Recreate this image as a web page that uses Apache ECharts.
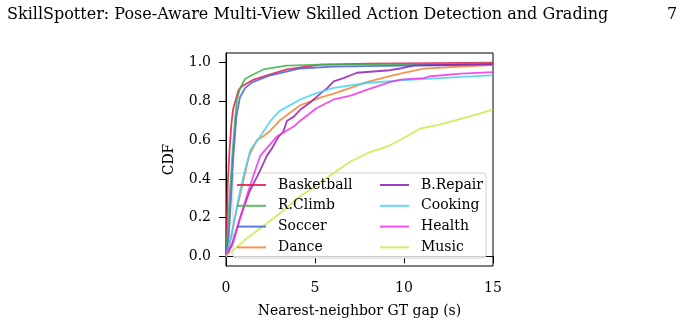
<!DOCTYPE html>
<html>
<head>
<meta charset="utf-8">
<script src="https://cdn.jsdelivr.net/npm/echarts@6/dist/echarts.min.js"></script>
<style>
  html, body { margin: 0; padding: 0; background: #fff; }
  #main { width: 685px; height: 325px; }
</style>
</head>
<body>
<div id="main"></div>
<script>
// CDF curves, [gap seconds, CDF]
const basketball = [[0,0],[0.05,0.2],[0.1,0.38],[0.2,0.55],[0.3,0.68],[0.4,0.76],[0.52,0.8],[0.71,0.86],[0.9,0.878],[1.55,0.913],[2.49,0.94],[3.43,0.965],[5.3,0.99],[8,0.995],[15,1.0]];
const rclimb = [[0,0],[0.1,0.15],[0.2,0.3],[0.34,0.5],[0.5,0.7],[0.62,0.81],[0.8,0.87],[1.08,0.917],[1.55,0.94],[2.1,0.965],[3.4,0.985],[5.3,0.99],[10,0.993],[15,0.995]];
const soccer = [[0,0],[0.15,0.1],[0.28,0.3],[0.4,0.5],[0.58,0.72],[0.78,0.82],[1.08,0.87],[1.5,0.9],[2.5,0.935],[4.17,0.97],[6,0.98],[10,0.985],[15,0.988]];
const dance = [[0,0],[0.13,0.03],[0.5,0.2],[1.0,0.4],[1.3,0.52],[1.74,0.6],[2.1,0.62],[2.5,0.65],[3.0,0.7],[3.43,0.73],[4.17,0.78],[5.3,0.82],[6.05,0.84],[7.0,0.87],[7.9,0.9],[9.2,0.93],[9.8,0.944],[11.1,0.969],[14.85,0.988],[15,0.988]];
const brepair = [[0,0],[0.3,0.05],[0.8,0.2],[1.3,0.33],[1.9,0.44],[2.3,0.52],[2.6,0.56],[2.96,0.62],[3.2,0.64],[3.43,0.7],[3.8,0.72],[4.17,0.757],[4.36,0.77],[4.8,0.8],[5.3,0.84],[5.7,0.87],[6.05,0.904],[6.6,0.92],[7.36,0.948],[9.2,0.961],[9.8,0.97],[10.6,0.986],[15,0.993]];
const cooking = [[0,0],[0.3,0.1],[0.7,0.3],[1.0,0.42],[1.37,0.55],[1.93,0.62],[2.5,0.7],[3.0,0.75],[4.17,0.81],[5,0.84],[6.05,0.87],[7.9,0.895],[9.8,0.909],[12,0.92],[14.85,0.934],[15,0.934]];
const health = [[0,0],[0.1,0.03],[0.4,0.07],[0.8,0.2],[1.2,0.32],[1.55,0.42],[1.93,0.52],[2.4,0.57],[2.87,0.62],[3.8,0.67],[4.17,0.7],[5.1,0.766],[6.05,0.81],[7.0,0.83],[7.9,0.86],[9.2,0.9],[9.8,0.913],[11.1,0.92],[11.5,0.93],[13.2,0.944],[15,0.951]];
const music = [[0,0],[0.5,0.04],[1,0.08],[2,0.15],[3,0.22],[4.17,0.31],[5,0.36],[6.05,0.43],[7,0.49],[8,0.535],[9.04,0.566],[10.17,0.62],[10.9,0.66],[12,0.68],[12.98,0.705],[14,0.73],[15,0.757]];

const seriesNames = ['Basketball', 'R.Climb', 'Soccer', 'Dance', 'B.Repair', 'Cooking', 'Health', 'Music'];
const seriesData = [basketball, rclimb, soccer, dance, brepair, cooking, health, music];
const colors = ['#e6194b', '#3cb44b', '#4363d8', '#f58231', '#911eb4', '#42d4f4', '#f032e6', '#bfef45'];

const yTicks = [0, 0.2, 0.4, 0.6, 0.8, 1.0];
const xTicks = [0, 5, 10, 15];

const serif = 'DejaVu Serif';

const chart = echarts.init(document.getElementById('main'));

const legendText = {
  fontFamily: serif,
  fontSize: 14,
  color: '#000',
  lineHeight: 16,
  padding: [0, 0, 0, 7]
};

const option = {
  animation: false,
  backgroundColor: '#fff',
  color: colors,
  title: [
    {
      text: 'SkillSpotter: Pose-Aware Multi-View Skilled Action Detection and Grading',
      left: 2, top: 2,
      textStyle: { fontFamily: serif, fontSize: 16, fontWeight: 'normal', color: '#000' }
    },
    {
      text: '7',
      left: 662, top: 2,
      textStyle: { fontFamily: serif, fontSize: 16, fontWeight: 'normal', color: '#000' }
    }
  ],
  grid: {
    left: 226, right: 192, top: 53, bottom: 59,
    show: true, borderColor: '#000', borderWidth: 1
  },
  xAxis: {
    type: 'value',
    min: 0, max: 15, interval: 5,
    name: 'Nearest-neighbor GT gap (s)',
    nameLocation: 'middle', nameGap: 38,
    nameTextStyle: { fontFamily: serif, fontSize: 14, color: '#000' },
    axisLine: { show: true, lineStyle: { color: '#000' } },
    axisTick: { show: true, length: 7, customValues: xTicks, lineStyle: { color: '#000' } },
    axisLabel: { margin: 15, fontFamily: serif, fontSize: 14, color: '#000', customValues: xTicks },
    splitLine: { show: false }
  },
  yAxis: {
    type: 'value',
    min: -0.05, max: 1.05,
    name: 'CDF',
    nameLocation: 'middle', nameGap: 50,
    nameTextStyle: { fontFamily: serif, fontSize: 14, color: '#000' },
    axisLine: { show: true, lineStyle: { color: '#000' } },
    axisTick: { show: true, length: 7, customValues: yTicks, lineStyle: { color: '#000' } },
    axisLabel: {
      margin: 15, fontFamily: serif, fontSize: 14, color: '#000',
      customValues: yTicks,
      formatter: v => v.toFixed(1)
    },
    splitLine: { show: false }
  },
  legend: [
    {
      data: seriesNames.slice(0, 4),
      orient: 'vertical', left: 237, top: 177, padding: 0,
      icon: 'rect', itemWidth: 29, itemHeight: 2, itemGap: 4.8,
      textStyle: legendText
    },
    {
      data: seriesNames.slice(4),
      orient: 'vertical', left: 380, top: 177, padding: 0,
      icon: 'rect', itemWidth: 29, itemHeight: 2, itemGap: 4.8,
      textStyle: legendText
    }
  ],
  graphic: [{
    type: 'rect', z: 3,
    shape: { x: 233, y: 173, width: 253, height: 85, r: 3 },
    style: { fill: 'rgba(255,255,255,0.8)', stroke: '#d0d0d0', lineWidth: 1 }
  }],
  series: seriesData.map((d, i) => ({
    name: seriesNames[i],
    type: 'line',
    data: d,
    showSymbol: false,
    lineStyle: { width: 1.8, opacity: 0.85 },
    itemStyle: { opacity: 0.85 }
  }))
};

chart.setOption(option);
</script>
</body>
</html>
